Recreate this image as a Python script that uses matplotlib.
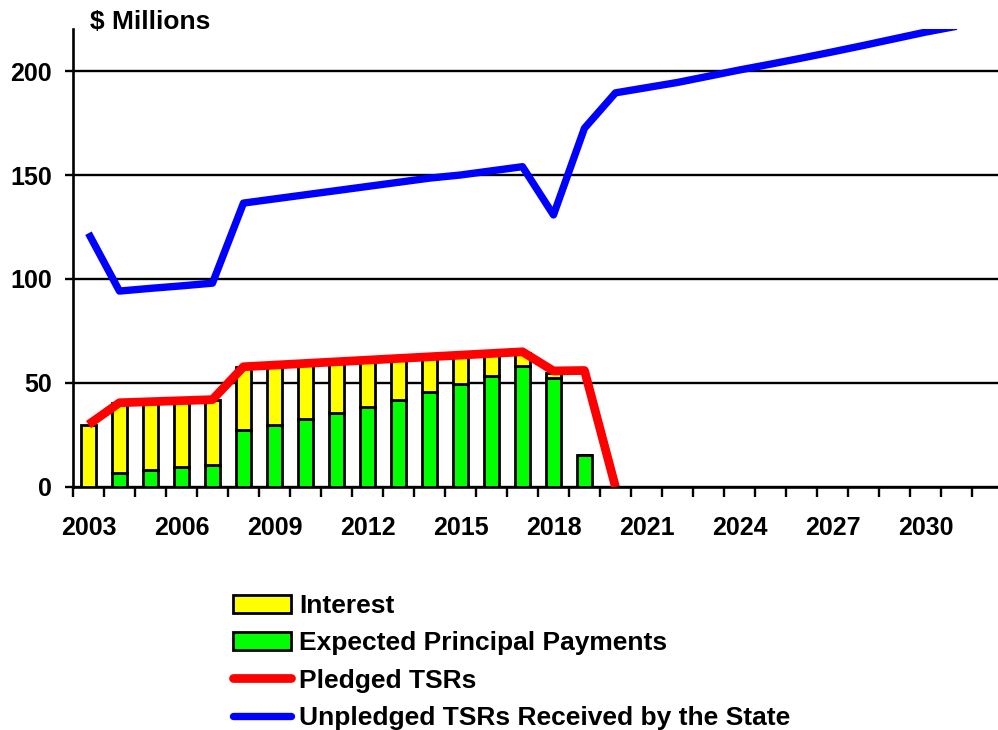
import matplotlib.pyplot as plt
from matplotlib.patches import Patch
from matplotlib.lines import Line2D

plt.rcParams["font.family"] = ["Liberation Sans", "DejaVu Sans"]
plt.rcParams["font.weight"] = "bold"

years = list(range(2003, 2033))
principal = [0, 6.9, 8.2, 9.5, 10.6, 27.4, 29.8, 32.5, 35.4, 38.6, 41.8,
             45.8, 49.4, 53.4, 58.2, 52.2, 15.2]
interest = [30, 33.3, 32.3, 31.5, 31.2, 30.2, 28.6, 26.7, 24.6, 22.1, 19.7,
            16.4, 13.6, 10.4, 6.4, 2.4, 0.4]
pledged = [30, 40.5, 41, 41.5, 42, 57.8, 58.6, 59.4, 60.2, 61, 61.8, 62.6,
           63.4, 64.2, 65, 55.8, 56, 0]
unpledged = [122, 94.2, 95.5, 96.7, 98, 136.5, 138.5, 140.5, 142.5, 144.5,
             146.5, 148.5, 150, 152, 154, 130.8, 172.5, 189.5, 192, 194.5,
             197.5, 200.5, 203.3, 206.2, 209.2, 212.3, 215.5, 218.7, 221.5]
tick_years = [2003, 2006, 2009, 2012, 2015, 2018, 2021, 2024, 2027, 2030]

fig = plt.figure(figsize=(9.98, 7.30), dpi=100)
ax = fig.add_axes([0.0731, 0.3329, 0.9319, 0.6268])

xb = range(len(principal))
ax.bar(xb, principal, width=0.47, color="#00ff00", edgecolor="black",
       linewidth=2.0, zorder=3)
ax.bar(xb, interest, bottom=principal, width=0.47, color="#ffff00",
       edgecolor="black", linewidth=2.0, zorder=3)
ax.plot(range(len(pledged)), pledged, color="#ff0000", linewidth=6.3,
        solid_capstyle="butt", zorder=4)
ax.plot(range(len(unpledged)), unpledged, color="#0000ff", linewidth=5.3,
        solid_capstyle="butt", zorder=4)

ax.set_xlim(-0.5, len(years) - 0.5)
ax.set_ylim(0, 220)
ax.set_yticks([0, 50, 100, 150, 200])
ax.yaxis.grid(True, color="black", linewidth=1.7, zorder=1)
ax.set_axisbelow(True)
ax.tick_params(axis="y", direction="out", length=6, width=1.7,
               labelsize=18, pad=9)

pos = [years.index(y) for y in tick_years]
ax.set_xticks(pos, [str(y) for y in tick_years])
ax.set_xticks([i - 0.5 for i in range(len(years) + 1)], minor=True)
ax.tick_params(axis="x", which="major", length=0, labelsize=18, pad=21)
ax.tick_params(axis="x", which="minor", direction="out", length=7, width=1.7)
for lab in ax.get_xticklabels() + ax.get_yticklabels():
    lab.set_fontweight("bold")

for s in ["top", "right"]:
    ax.spines[s].set_visible(False)
for s in ["left", "bottom"]:
    ax.spines[s].set_linewidth(1.9)

fig.text(0.09, 0.97, "$ Millions", fontsize=19, fontweight="bold",
         ha="left", va="center")

handles = [
    Patch(facecolor="#ffff00", edgecolor="black", linewidth=2.0),
    Patch(facecolor="#00ff00", edgecolor="black", linewidth=2.0),
    Line2D([], [], color="#ff0000", linewidth=6.3, solid_capstyle="round"),
    Line2D([], [], color="#0000ff", linewidth=5.3, solid_capstyle="round"),
]
labels = ["Interest", "Expected Principal Payments", "Pledged TSRs",
          "Unpledged TSRs Received by the State"]
fig.legend(handles, labels, loc="upper left", bbox_to_anchor=(0.2335, 0.186),
           frameon=False, handlelength=2.2, handleheight=0.68,
           handletextpad=0.3, labelspacing=0.5, borderpad=0.0,
           borderaxespad=0.0, prop={"weight": "bold", "size": 19})

fig.savefig("out.png", dpi=100)
